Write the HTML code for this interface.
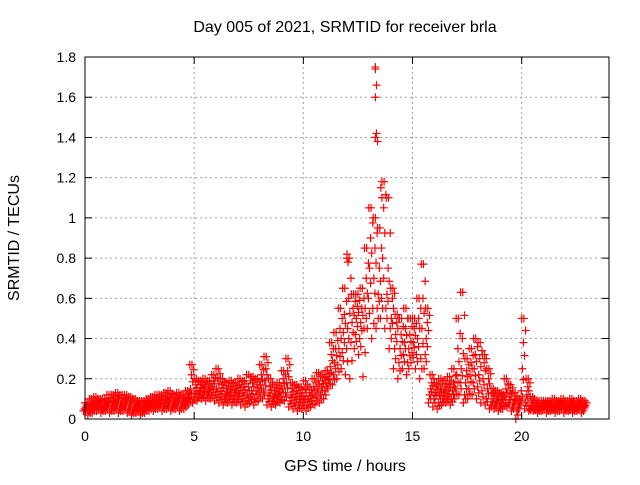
<!DOCTYPE html>
<html><head><meta charset="utf-8"><style>
body{margin:0;background:#fff;}
svg{font-family:"Liberation Sans",sans-serif;}
</style></head><body>
<svg id="chart" width="640" height="480" viewBox="0 0 640 480" xmlns="http://www.w3.org/2000/svg">
<rect width="640" height="480" fill="#fff"/>
<text x="345" y="32" font-size="16" text-anchor="middle">Day 005 of 2021, SRMTID for receiver brla</text>
<text x="345" y="471" font-size="16" text-anchor="middle">GPS time / hours</text>
<text x="19" y="238" font-size="16" text-anchor="middle" transform="rotate(-90 19 238)">SRMTID / TECUs</text>
<g id="grid"></g>
<g id="marks"></g>
<rect x="85" y="57" width="524" height="362" fill="none" stroke="#000" stroke-width="1"/>
<g id="ticks"></g>
</svg>
<script>
const xTicks=[0,5,10,15,20];
const yTicks=[0,0.2,0.4,0.6,0.8,1,1.2,1.4,1.6,1.8];
const yTickLabels=["0","0.2","0.4","0.6","0.8","1","1.2","1.4","1.6","1.8"];
const binStart=0, binStep=0.2;
const vLow=[.04,.02,.03,.04,.03,.04,.03,.04,.03,.04,.03,.02,.03,.02,.03,.04,.04,.05,.04,.05,.04,.05,.04,.05,.07,.08,.09,.10,.09,.10,.09,.08,.07,.08,.07,.08,.07,.06,.08,.07,.09,.10,.07,.06,.07,.08,.09,.06,.05,.04,.05,.04,.06,.07,.08,.10,.15,.17,.20,.25,.22,.20,.35,.32,.21,.45,.40,.45,.50,.45,.35,.25,.20,.25,.22,.28,.25,.20,.25,.08,.06,.05,.07,.08,.07,.10,.12,.08,.10,.12,.10,.08,.07,.05,.05,.04,.05,.06,.04,.00,.08,.05,.04,.04,.03,.04,.03,.04,.03,.04,.03,.04,.03,.04,.03];
const vA=[.05,.04,.05,.06,.05,.06,.05,.06,.05,.06,.05,.04,.05,.04,.05,.06,.06,.07,.06,.07,.06,.07,.06,.07,.10,.11,.12,.12,.12,.13,.12,.11,.10,.11,.10,.11,.10,.09,.11,.10,.13,.14,.10,.09,.10,.11,.13,.09,.08,.07,.08,.07,.09,.11,.12,.14,.20,.22,.27,.33,.35,.38,.42,.40,.45,.60,.55,.55,.60,.55,.45,.35,.28,.32,.28,.33,.32,.30,.32,.12,.10,.08,.10,.11,.10,.15,.18,.12,.15,.18,.16,.14,.10,.07,.07,.06,.08,.08,.06,.04,.14,.08,.05,.05,.05,.06,.05,.05,.05,.06,.05,.05,.05,.06,.05];
const vB=[.06,.06,.07,.07,.06,.08,.07,.08,.07,.08,.07,.06,.06,.05,.07,.07,.08,.08,.08,.09,.08,.09,.08,.09,.15,.14,.14,.15,.14,.16,.15,.14,.12,.13,.13,.14,.13,.12,.14,.14,.17,.19,.13,.11,.12,.15,.18,.12,.11,.10,.11,.10,.12,.15,.16,.18,.26,.28,.35,.43,.45,.48,.50,.48,.55,.75,.70,.62,.80,.62,.50,.42,.35,.38,.35,.38,.40,.45,.40,.15,.13,.12,.13,.14,.14,.22,.25,.18,.22,.25,.22,.20,.15,.10,.09,.08,.11,.11,.08,.06,.25,.12,.07,.06,.06,.07,.06,.06,.07,.07,.06,.07,.06,.07,.06];
const vC=[.07,.08,.09,.09,.08,.09,.10,.10,.09,.10,.09,.08,.08,.07,.08,.09,.10,.10,.11,.11,.10,.11,.10,.12,.22,.17,.17,.17,.16,.19,.20,.17,.15,.16,.15,.17,.16,.16,.18,.17,.22,.25,.16,.14,.15,.20,.24,.15,.14,.13,.15,.13,.16,.19,.19,.21,.32,.35,.45,.52,.60,.55,.56,.55,.70,.90,.85,.75,1.05,.75,.60,.48,.42,.45,.42,.45,.50,.60,.48,.18,.16,.15,.16,.17,.18,.35,.40,.24,.28,.32,.30,.28,.20,.13,.11,.11,.15,.14,.10,.08,.38,.16,.09,.07,.07,.08,.07,.08,.08,.08,.07,.08,.07,.08,.07];
const vHigh=[.08,.10,.11,.10,.10,.12,.12,.13,.12,.12,.11,.10,.09,.09,.10,.11,.12,.12,.13,.14,.12,.13,.12,.14,.27,.20,.19,.20,.19,.22,.25,.20,.18,.19,.18,.20,.19,.22,.21,.20,.27,.31,.20,.17,.18,.24,.30,.18,.17,.16,.19,.16,.20,.23,.22,.24,.38,.43,.55,.65,.80,.62,.62,.65,.85,1.05,1.00,.95,1.18,1.10,.65,.52,.50,.55,.50,.50,.60,.77,.55,.22,.18,.20,.19,.21,.25,.50,.63,.30,.35,.40,.38,.32,.25,.15,.14,.13,.20,.17,.13,.10,.50,.20,.11,.09,.09,.09,.09,.10,.09,.10,.09,.10,.09,.10,.09];
const peakTimes=[13.3,13.3,13.35,13.3,13.35,13.3,13.4,13.55,13.6,12.0,12.05];
const peakValues=[1.75,1.74,1.66,1.60,1.42,1.40,1.38,1.15,1.10,0.82,0.78];

const X0=85,X1=609,Y0=419,Y1=57,XMAX=24,YMAX=1.8;
function xs(t){return X0+(X1-X0)*t/XMAX;}
function ys(v){return Y0-(Y0-Y1)*v/YMAX;}
const NS="http://www.w3.org/2000/svg";
const grid=document.getElementById('grid'),ticks=document.getElementById('ticks'),marks=document.getElementById('marks');
function mk(tag,attrs,parent){const e=document.createElementNS(NS,tag);for(const k in attrs)e.setAttribute(k,attrs[k]);parent.appendChild(e);return e;}
xTicks.forEach(function(t){
  const x=xs(t);
  if(t>0){const g=mk('line',{x1:x,y1:Y0,x2:x,y2:Y1,stroke:'#a0a0a0','stroke-dasharray':'2,3'},grid);
  
  }
  const l=mk('path',{d:'M'+x+' '+Y0+'v-7M'+x+' '+Y1+'v7',stroke:'#000'},ticks);
  
  
  const tx=mk('text',{x:x,y:Y0+22,'font-size':14,'text-anchor':'middle'},ticks);tx.textContent=String(t);
  
  
});
yTicks.forEach(function(v,i){
  const y=ys(v);
  if(v>0&&v<YMAX){const g=mk('line',{x1:X0,y1:y,x2:X1,y2:y,stroke:'#a0a0a0','stroke-dasharray':'2,3'},grid);
  
  }
  const l=mk('path',{d:'M'+X0+' '+y+'h7M'+X1+' '+y+'h-7',stroke:'#000'},ticks);
  
  
  const tx=mk('text',{x:X0-9,y:y+5,'font-size':14,'text-anchor':'end'},ticks);tx.textContent=yTickLabels[i];
  
  
});
function cross(t,v){
  const x=xs(t),y=ys(v);
  const p=mk('path',{d:'M'+(x-4)+' '+y+'h8M'+x+' '+(y-4)+'v8',stroke:'#f00','stroke-width':1.2},marks);
  
  
}
const series=[vLow,vA,vB,vC,vHigh];
const offs=[-0.07,-0.02,0.03,0.08,0.0];
series.forEach(function(arr,si){
  arr.forEach(function(v,k){
    const t=binStart+k*binStep+offs[si];
    cross(t,v);
    cross(t+0.1,(v+ (series[Math.min(si+1,4)][k]))/2);
  });
});
peakTimes.forEach(function(t,i){cross(t,peakValues[i]);});
</script>
</body></html>
